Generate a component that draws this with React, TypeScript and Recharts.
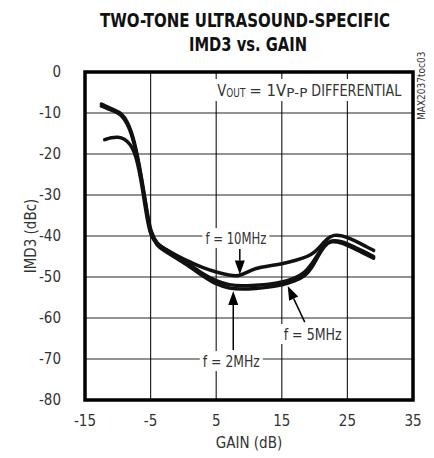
import React from 'react';
import {
  LineChart,
  Line,
  XAxis,
  YAxis,
  CartesianGrid,
  ReferenceArea,
  ReferenceDot,
  ReferenceLine,
} from 'recharts';

// gain (dB) and IMD3 (dBc)
const gain2MHz = [-12.5, -11.5, -10.5, -9.5, -8.5, -7.5, -6.5, -5.5, -5, -4, -3, -1, 1, 3, 5, 7, 9, 11, 13, 15, 17, 18.5, 19.5, 20.5, 21.5, 22.5, 24, 26, 28, 29];
const imd2MHz = [-8.3, -9, -9.6, -10.4, -12.5, -17, -25, -35, -39.5, -42.5, -43.5, -45.5, -47.5, -49.8, -51.8, -52.8, -53, -52.8, -52.5, -52, -51, -49.8, -48, -45, -42.3, -41.2, -41.5, -43, -44.6, -45.4];
const imd5MHz = [-7.8, -8.6, -9.3, -10, -12, -16.5, -24.5, -34.5, -39, -42, -43, -45, -47, -49.3, -51, -52, -52.2, -52, -51.8, -51.3, -50.3, -49, -47, -44.5, -42, -41, -41.2, -42.6, -44.2, -45];

const gain10MHz = [-12, -11, -10, -9, -8, -7.5, -7, -6.5, -6, -5.5, -5, -4, -3, -1, 1, 3, 5, 7, 8.5, 9.5, 11, 13, 15, 17, 19, 20, 21, 22, 23, 24, 26, 28, 29];
const imd10MHz = [-16.5, -16, -15.8, -16.2, -17.8, -19.5, -22, -26, -31, -36, -40, -42, -43, -44.8, -46.3, -47.8, -48.8, -49.6, -49.8, -49, -47.8, -47.3, -46.8, -46, -45, -44, -42.3, -40.5, -39.7, -39.8, -41, -42.7, -43.5];

const xTicks = [-15, -5, 5, 15, 25, 35];
const yTicks = [-80, -70, -60, -50, -40, -30, -20, -10, 0];

const toPoints = (gain: number[], imd: number[]) =>
  gain.map((g, i) => ({ gain: g, imd: imd[i] }));

const FONT = '"Liberation Sans Narrow", "DejaVu Sans Condensed", "Liberation Sans", sans-serif';

const series = [
  { name: 'f = 2MHz', data: toPoints(gain2MHz, imd2MHz) },
  { name: 'f = 5MHz', data: toPoints(gain2MHz, imd5MHz) },
  { name: 'f = 10MHz', data: toPoints(gain10MHz, imd10MHz) },
];

const labelShape = (text: string, w: number) => (props: any) => {
  const { cx, cy } = props;
  return (
    <g>
      <rect x={cx - w / 2 - 3} y={cy - 10} width={w + 6} height={20} fill="#fff" />
      <text
        x={cx - w / 2}
        y={cy + 6}
        fontSize={16}
        fontFamily={FONT}
        fill="#333"
        textLength={w}
        lengthAdjust="spacingAndGlyphs"
      >
        {text}
      </text>
    </g>
  );
};

// pieces of "VOUT = 1VP-P DIFFERENTIAL": [text, left offset, width, small]
const voutParts: [string, number, number, boolean][] = [
  ['V', 0, 9, false],
  ['OUT', 9, 19, true],
  ['= 1V', 32, 37, false],
  ['P-P', 69, 21, true],
  ['DIFFERENTIAL', 94, 90, false],
];

const voutShape = (props: any) => {
  const { cx, cy } = props;
  const left = cx - 92;
  return (
    <g>
      <rect x={cx - 96} y={cy - 11} width={192} height={22} fill="#fff" />
      {voutParts.map(([t, dx, w, small]) => (
        <text
          key={t}
          x={left + dx}
          y={cy + (small ? 7 : 6)}
          fontSize={small ? 12 : 16}
          fontFamily={FONT}
          fill="#333"
          textLength={w}
          lengthAdjust="spacingAndGlyphs"
        >
          {t}
        </text>
      ))}
    </g>
  );
};

const arrowShape = (props: any) => {
  const { x1, y1, x2, y2 } = props;
  if ([x1, y1, x2, y2].some((v) => v === undefined)) return null;
  const ang = Math.atan2(y2 - y1, x2 - x1);
  const len = 14;
  const half = 5;
  const bx = x2 - len * Math.cos(ang);
  const by = y2 - len * Math.sin(ang);
  const px = -Math.sin(ang) * half;
  const py = Math.cos(ang) * half;
  return (
    <g>
      <line x1={x1} y1={y1} x2={bx} y2={by} stroke="#000" strokeWidth={1.5} />
      <polygon points={`${x2},${y2} ${bx + px},${by + py} ${bx - px},${by - py}`} fill="#000" />
    </g>
  );
};

export default function App() {
  return (
    <div style={{ position: 'absolute', left: 0, top: 0, width: 434, height: 458, background: '#fff' }}>
      <svg width={434} height={60} style={{ position: 'absolute', left: 0, top: 0 }}>
        <text
          x={100}
          y={27}
          fontFamily={FONT}
          fontWeight="bold"
          fontSize={19}
          fill="#111"
          textLength={290}
          lengthAdjust="spacingAndGlyphs"
        >
          TWO-TONE ULTRASOUND-SPECIFIC
        </text>
        <text
          x={189}
          y={51}
          fontFamily={FONT}
          fontWeight="bold"
          fontSize={19}
          fill="#111"
          textLength={118}
          lengthAdjust="spacingAndGlyphs"
        >
          IMD3 vs. GAIN
        </text>
      </svg>
      <div
        style={{
          position: 'absolute',
          left: 416,
          top: 62,
          fontFamily: FONT,
          fontSize: 10,
          color: '#333',
          writingMode: 'vertical-rl',
          transform: 'rotate(180deg)',
          height: 58,
          transformOrigin: 'center',
        }}
      >
        MAX2037toc03
      </div>
      <LineChart
        width={434}
        height={458}
        margin={{ top: 72, right: 21, bottom: 28, left: 20 }}
        style={{ position: 'absolute', left: 0, top: 0 }}
      >
        <CartesianGrid stroke="#000" strokeWidth={1.2} strokeOpacity={0.85} />
        <XAxis
          dataKey="gain"
          type="number"
          domain={[-15, 35]}
          ticks={xTicks}
          allowDataOverflow
          axisLine={false}
          tickLine={false}
          height={30}
          tickMargin={9}
          tick={{ fontSize: 15, fontFamily: FONT, fill: '#333' }}
          label={{ value: 'GAIN (dB)', position: 'insideBottom', offset: -18, fontSize: 15, fontFamily: FONT, fill: '#333' }}
        />
        <YAxis
          type="number"
          domain={[-80, 0]}
          ticks={yTicks}
          allowDataOverflow
          axisLine={false}
          tickLine={false}
          width={65}
          tickMargin={18}
          tick={{ fontSize: 15, fontFamily: FONT, fill: '#333' }}
          label={{ value: 'IMD3 (dBc)', angle: -90, position: 'insideLeft', offset: 11, fontSize: 15, fontFamily: FONT, fill: '#333', style: { textAnchor: 'middle' } }}
        />
        <ReferenceArea x1={-15} x2={35} y1={-80} y2={0} fill="none" stroke="#000" strokeWidth={3.5} ifOverflow="visible" />
        {series.map((s) => (
          <Line
            key={s.name}
            data={s.data}
            dataKey="imd"
            type="basis"
            stroke="#111"
            strokeWidth={3.5}
            strokeLinecap="round"
            dot={false}
            activeDot={false}
            isAnimationActive={false}
          />
        ))}
        <ReferenceDot x={19.2} y={-4.4} r={0} shape={voutShape} ifOverflow="visible" />
        <ReferenceDot x={8.0} y={-40.5} r={0} shape={labelShape('f = 10MHz', 61)} ifOverflow="visible" />
        <ReferenceDot x={19.7} y={-63.9} r={0} shape={labelShape('f = 5MHz', 58)} ifOverflow="visible" />
        <ReferenceDot x={7.3} y={-70.5} r={0} shape={labelShape('f = 2MHz', 57)} ifOverflow="visible" />
        <ReferenceLine segment={[{ x: 8.6, y: -43.2 }, { x: 8.6, y: -49.4 }]} shape={arrowShape} ifOverflow="visible" />
        <ReferenceLine segment={[{ x: 18.5, y: -61 }, { x: 15.9, y: -52.2 }]} shape={arrowShape} ifOverflow="visible" />
        <ReferenceLine segment={[{ x: 7.6, y: -67.8 }, { x: 7.6, y: -53.4 }]} shape={arrowShape} ifOverflow="visible" />
      </LineChart>
    </div>
  );
}
